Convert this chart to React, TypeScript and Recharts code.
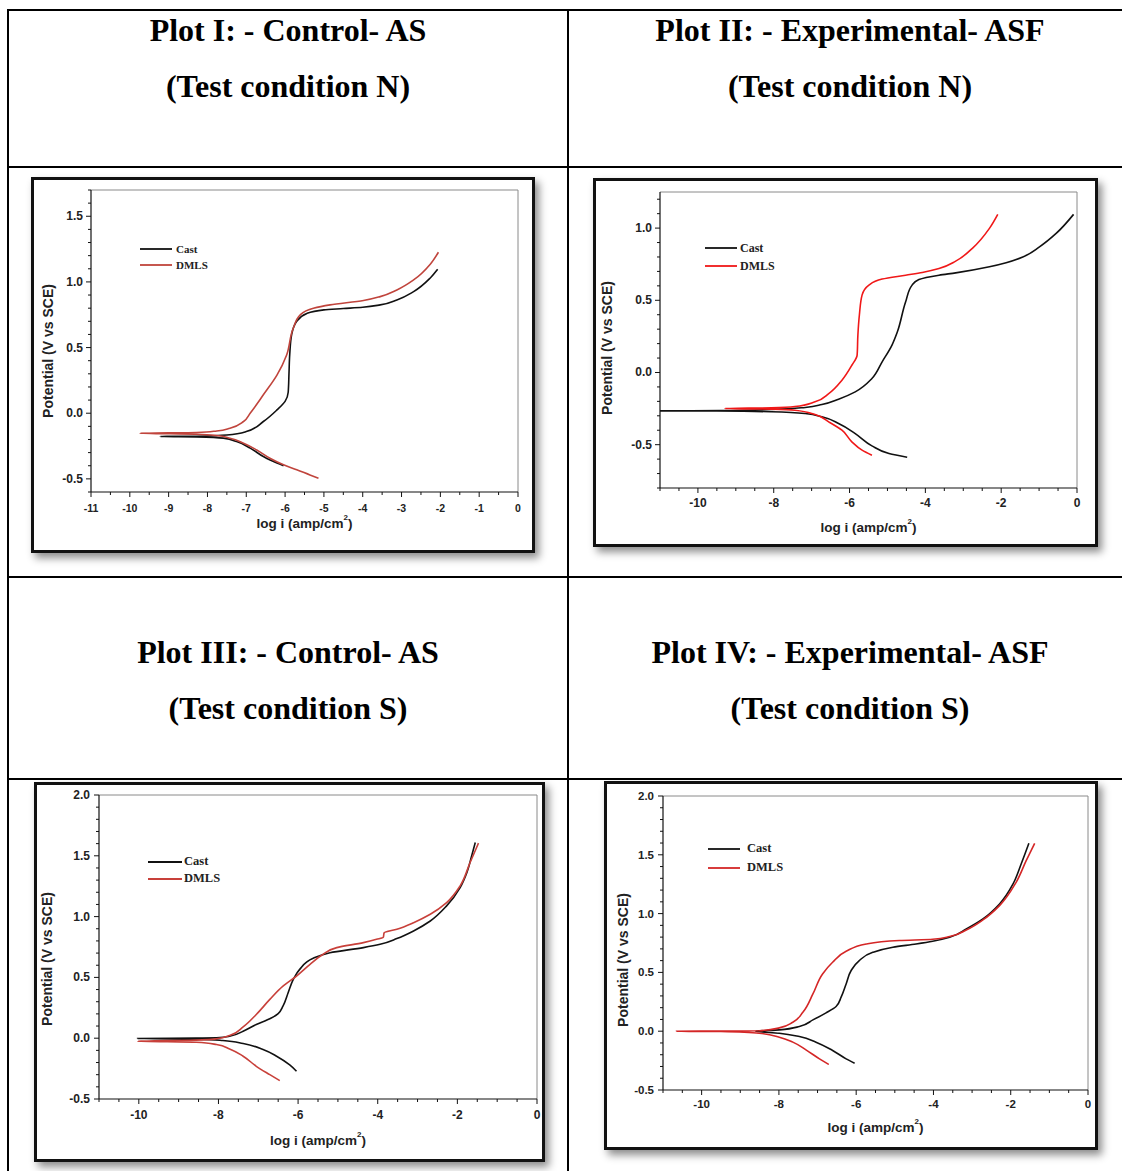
import { LineChart, Line, XAxis, YAxis, ReferenceLine, Legend } from "recharts";

type Pt = [number, number];

// [log i, potential] in scan order: cathodic end -> Ecorr -> anodic end
const castPlotI: Pt[] = [
  [-6.04, -0.4], [-6.21, -0.38], [-6.4, -0.355], [-6.56, -0.33], [-6.9, -0.266], [-7.25, -0.216],
  [-7.59, -0.19], [-8.28, -0.18], [-9.22, -0.178], [-8.3, -0.175], [-7.5, -0.166], [-7.0, -0.14],
  [-6.56, -0.063], [-6.21, 0.025], [-6.0, 0.09], [-5.92, 0.16], [-5.9, 0.3], [-5.88, 0.45],
  [-5.83, 0.6], [-5.7, 0.7], [-5.44, 0.76], [-5.0, 0.787], [-4.5, 0.797], [-4.0, 0.807],
  [-3.55, 0.825], [-3.12, 0.863], [-2.69, 0.926], [-2.26, 1.03], [-2.07, 1.096],
];
const dmlsPlotI: Pt[] = [
  [-5.14, -0.495], [-5.36, -0.47], [-5.7, -0.43], [-6.04, -0.393], [-6.39, -0.343], [-6.73, -0.28],
  [-7.07, -0.228], [-7.42, -0.19], [-7.76, -0.17], [-8.28, -0.16], [-9.74, -0.152], [-8.28, -0.147],
  [-7.76, -0.135], [-7.42, -0.114], [-7.07, -0.063], [-6.9, 0.0], [-6.56, 0.14], [-6.21, 0.29],
  [-5.96, 0.444], [-5.79, 0.647], [-5.61, 0.749], [-5.27, 0.8], [-4.84, 0.825], [-3.98, 0.858],
  [-3.55, 0.888], [-3.12, 0.939], [-2.69, 1.015], [-2.26, 1.135], [-2.05, 1.226],
];

const castPlotII: Pt[] = [
  [-4.48, -0.587], [-4.96, -0.561], [-5.41, -0.508], [-5.85, -0.423], [-6.29, -0.353], [-6.73, -0.307],
  [-7.17, -0.284], [-8.06, -0.272], [-9.5, -0.267], [-11, -0.266], [-9.38, -0.264], [-8.06, -0.256],
  [-7.17, -0.242], [-6.73, -0.222], [-6.29, -0.185], [-5.85, -0.134], [-5.41, -0.042], [-5.14, 0.074],
  [-4.88, 0.19], [-4.74, 0.28], [-4.52, 0.49], [-4.35, 0.605], [-4.17, 0.644], [-3.64, 0.674],
  [-3.2, 0.69], [-2.31, 0.732], [-1.87, 0.76], [-1.43, 0.8], [-0.99, 0.87], [-0.55, 0.963], [-0.09, 1.095],
];
const dmlsPlotII: Pt[] = [
  [-5.41, -0.573], [-5.67, -0.538], [-5.94, -0.48], [-6.2, -0.4], [-6.55, -0.342], [-6.91, -0.291],
  [-7.44, -0.261], [-8.06, -0.254], [-9.29, -0.249], [-8.06, -0.245], [-7.44, -0.236], [-6.91, -0.203],
  [-6.55, -0.146], [-6.2, -0.053], [-5.94, 0.05], [-5.8, 0.12], [-5.78, 0.26], [-5.74, 0.4],
  [-5.67, 0.536], [-5.49, 0.605], [-5.14, 0.647], [-4.52, 0.674], [-4.08, 0.693], [-3.64, 0.72],
  [-3.2, 0.771], [-2.76, 0.86], [-2.31, 0.998], [-2.09, 1.095],
];

const castPlotIII: Pt[] = [
  [-6.04, -0.272], [-6.21, -0.22], [-6.54, -0.148], [-6.88, -0.093], [-7.38, -0.044], [-7.89, -0.019],
  [-8.56, -0.008], [-10.03, -0.003], [-8.56, 0.001], [-8.05, 0.003], [-7.72, 0.016], [-7.38, 0.058],
  [-7.05, 0.113], [-6.71, 0.16], [-6.5, 0.203], [-6.38, 0.264], [-6.25, 0.374], [-6.12, 0.484],
  [-5.96, 0.566], [-5.62, 0.657], [-5.2, 0.703], [-4.36, 0.745], [-3.94, 0.772], [-3.52, 0.819],
  [-3.1, 0.882], [-2.68, 0.964], [-2.27, 1.088], [-1.93, 1.239], [-1.76, 1.363], [-1.64, 1.5], [-1.55, 1.61],
];
const dmlsPlotIII: Pt[] = [
  [-6.46, -0.349], [-6.71, -0.3], [-7.05, -0.231], [-7.38, -0.148], [-7.72, -0.088], [-8.05, -0.052],
  [-8.56, -0.033], [-10.03, -0.025], [-8.56, -0.016], [-8.05, -0.005], [-7.72, 0.022], [-7.38, 0.093],
  [-7.05, 0.195], [-6.71, 0.319], [-6.38, 0.429], [-6.04, 0.511], [-5.7, 0.607], [-5.37, 0.69],
  [-5.03, 0.745], [-4.36, 0.786], [-4.03, 0.813], [-3.86, 0.83], [-3.84, 0.866], [-3.52, 0.896],
  [-3.1, 0.95], [-2.68, 1.019], [-2.27, 1.115], [-1.93, 1.253], [-1.68, 1.445], [-1.47, 1.604],
];

const castPlotIV: Pt[] = [
  [-6.04, -0.272], [-6.26, -0.235], [-6.61, -0.164], [-7.04, -0.093], [-7.47, -0.045], [-7.99, -0.017],
  [-8.6, 0.0], [-7.99, 0.011], [-7.47, 0.04], [-7.12, 0.096], [-6.78, 0.156], [-6.52, 0.21],
  [-6.39, 0.289], [-6.26, 0.402], [-6.13, 0.516], [-5.92, 0.6], [-5.57, 0.671], [-5.05, 0.714],
  [-4.45, 0.742], [-4.02, 0.765], [-3.58, 0.799], [-3.15, 0.87], [-2.72, 0.955], [-2.29, 1.082],
  [-1.94, 1.252], [-1.73, 1.422], [-1.53, 1.598],
];
const dmlsPlotIV: Pt[] = [
  [-6.71, -0.283], [-6.95, -0.235], [-7.3, -0.159], [-7.64, -0.093], [-7.99, -0.051], [-8.51, -0.017],
  [-9.5, -0.003], [-10.65, 0.0], [-9.5, 0.001], [-8.51, 0.004], [-7.99, 0.028], [-7.64, 0.076],
  [-7.38, 0.161], [-7.12, 0.317], [-6.87, 0.487], [-6.61, 0.586], [-6.26, 0.68], [-5.74, 0.742],
  [-4.88, 0.771], [-4.02, 0.782], [-3.58, 0.805], [-3.15, 0.861], [-2.72, 0.946], [-2.29, 1.068],
  [-1.86, 1.266], [-1.6, 1.45], [-1.38, 1.598],
];

// tick labels
const xMajorAll = [-11, -10, -9, -8, -7, -6, -5, -4, -3, -2, -1, 0];
const xMajorEven = [-10, -8, -6, -4, -2, 0];
const yMajorI = [-0.5, 0, 0.5, 1.0, 1.5];
const yMajorII = [-0.5, 0, 0.5, 1.0];
const yMajorS = [-0.5, 0, 0.5, 1.0, 1.5, 2.0];

const titles = [
  "Plot I: - Control- AS",
  "Plot II: - Experimental- ASF",
  "Plot III: - Control- AS",
  "Plot IV: - Experimental- ASF",
];
const conditions = ["(Test condition N)", "(Test condition N)", "(Test condition S)", "(Test condition S)"];

const SANS = "'Liberation Sans', Arial, sans-serif";
const SERIF = "'Liberation Serif', 'Times New Roman', serif";

const toXY = (pts: Pt[]) => pts.map(([x, y]) => ({ x, y }));
const steps = (from: number, to: number, step: number) => {
  const out: number[] = [];
  for (let v = from; v <= to + 1e-9; v += step) out.push(Math.round(v * 100) / 100);
  return out;
};
const isMajor = (majors: number[], v: number) => majors.some((m) => Math.abs(m - v) < 1e-6);

interface PlotCfg {
  frame: { left: number; top: number; width: number; height: number };
  plot: { left: number; top: number; right: number; bottom: number };
  yDomain: [number, number];
  yMajor: number[];
  xMajor: number[];
  cast: Pt[];
  dmls: Pt[];
  red: string;
  xFont: number;
  yFont: number;
  xTickDy: number;
  yTickGap: number;
  yLabelX: number;
  yLabelDy: number;
  xLabelDy: number;
  legend: { left: number; top: number; row: number; line: number; gap: number; font: number };
}

const plots: PlotCfg[] = [
  {
    frame: { left: 31, top: 177, width: 504, height: 376 },
    plot: { left: 57, top: 10, right: 14, bottom: 58 },
    yDomain: [-0.6, 1.7], yMajor: yMajorI, xMajor: xMajorAll,
    cast: castPlotI, dmls: dmlsPlotI, red: "#c0443c",
    xFont: 10.5, yFont: 12, xTickDy: 16, yTickGap: 8,
    yLabelX: 14, yLabelDy: 10, xLabelDy: 31,
    legend: { left: 106, top: 61, row: 16, line: 32, gap: 4, font: 11 },
  },
  {
    frame: { left: 593, top: 178, width: 505, height: 369 },
    plot: { left: 64, top: 11, right: 18, bottom: 56 },
    yDomain: [-0.8, 1.25], yMajor: yMajorII, xMajor: xMajorEven,
    cast: castPlotII, dmls: dmlsPlotII, red: "#f01818",
    xFont: 12, yFont: 12, xTickDy: 15, yTickGap: 8,
    yLabelX: 11, yLabelDy: 8, xLabelDy: 39,
    legend: { left: 109, top: 58, row: 18, line: 32, gap: 3, font: 12 },
  },
  {
    frame: { left: 34, top: 782, width: 511, height: 380 },
    plot: { left: 62, top: 10, right: 5, bottom: 60 },
    yDomain: [-0.5, 2.0], yMajor: yMajorS, xMajor: xMajorEven,
    cast: castPlotIII, dmls: dmlsPlotIII, red: "#c8403a",
    xFont: 12, yFont: 12, xTickDy: 16, yTickGap: 9,
    yLabelX: 10, yLabelDy: 12, xLabelDy: 41,
    legend: { left: 111, top: 68, row: 17, line: 34, gap: 2, font: 12.5 },
  },
  {
    frame: { left: 604, top: 781, width: 494, height: 369 },
    plot: { left: 56, top: 12, right: 7, bottom: 57 },
    yDomain: [-0.5, 2.0], yMajor: yMajorS, xMajor: xMajorEven,
    cast: castPlotIV, dmls: dmlsPlotIV, red: "#d42626",
    xFont: 11.5, yFont: 11.5, xTickDy: 14, yTickGap: 9,
    yLabelX: 16, yLabelDy: 17, xLabelDy: 37,
    legend: { left: 101, top: 55, row: 19, line: 32, gap: 7, font: 12.5 },
  },
];

const BORDER = 3;

function PolarizationChart({ cfg }: { cfg: PlotCfg }) {
  const w = cfg.frame.width - BORDER * 2;
  const h = cfg.frame.height - BORDER * 2;
  const [yMin, yMax] = cfg.yDomain;
  const xTicks = steps(-11, 0, 0.5);
  const yTicks = steps(Math.ceil(yMin * 10) / 10, Math.floor(yMax * 10) / 10, 0.1);

  const xTick = (p: any) => {
    const { x, y, payload } = p;
    const major = isMajor(cfg.xMajor, payload.value);
    return (
      <g>
        <line x1={x} x2={x} y1={y} y2={y + (major ? 5 : 3)} stroke="#111" />
        {major && (
          <text x={x} y={y + cfg.xTickDy} textAnchor="middle" dominantBaseline="central"
            fontSize={cfg.xFont} fontWeight="bold" fontFamily={SANS} fill="#222">
            {String(payload.value)}
          </text>
        )}
      </g>
    );
  };
  const yTick = (p: any) => {
    const { x, y, payload } = p;
    const major = isMajor(cfg.yMajor, payload.value);
    return (
      <g>
        <line x1={x - (major ? 5 : 3)} x2={x} y1={y} y2={y} stroke="#111" />
        {major && (
          <text x={x - cfg.yTickGap} y={y} textAnchor="end" dominantBaseline="central"
            fontSize={cfg.yFont} fontWeight="bold" fontFamily={SANS} fill="#222">
            {payload.value.toFixed(1)}
          </text>
        )}
      </g>
    );
  };
  const yLabel = (p: any) => {
    const vb = p.viewBox;
    const cx = cfg.yLabelX;
    const cy = vb.y + vb.height / 2 + cfg.yLabelDy;
    return (
      <text x={cx} y={cy} transform={`rotate(-90 ${cx} ${cy})`} textAnchor="middle"
        dominantBaseline="central" fontSize={14} fontWeight="bold" fontFamily={SANS} fill="#222">
        Potential (V vs SCE)
      </text>
    );
  };
  const xLabel = (p: any) => {
    const vb = p.viewBox;
    const cx = vb.x + vb.width / 2;
    const cy = vb.y + cfg.xLabelDy;
    return (
      <text x={cx} y={cy} textAnchor="middle" dominantBaseline="central"
        fontSize={13.5} fontWeight="bold" fontFamily={SANS} fill="#222">
        <tspan>log i (amp/cm</tspan>
        <tspan dy={-6} fontSize={8}>2</tspan>
        <tspan dy={6}>)</tspan>
      </text>
    );
  };
  const legend = (p: any) => (
    <div>
      {(p.payload || []).map((item: any) => (
        <div key={item.value} style={{ display: "flex", alignItems: "center", height: cfg.legend.row }}>
          <svg width={cfg.legend.line} height={4} style={{ display: "block" }}>
            <line x1={0} x2={cfg.legend.line} y1={2} y2={2} stroke={item.color} strokeWidth={1.8} />
          </svg>
          <span style={{ marginLeft: cfg.legend.gap, fontFamily: SERIF, fontWeight: "bold",
            fontSize: cfg.legend.font, color: "#222", lineHeight: 1 }}>
            {item.value}
          </span>
        </div>
      ))}
    </div>
  );

  return (
    <div
      style={{
        position: "absolute",
        left: cfg.frame.left,
        top: cfg.frame.top,
        width: cfg.frame.width,
        height: cfg.frame.height,
        boxSizing: "border-box",
        border: `${BORDER}px solid #111`,
        boxShadow: "4px 5px 8px rgba(0,0,0,0.45)",
        background: "#fff",
      }}
    >
      <LineChart
        width={w}
        height={h}
        margin={{ top: cfg.plot.top, right: cfg.plot.right, left: 0, bottom: 0 }}
      >
        <XAxis
          type="number"
          dataKey="x"
          domain={[-11, 0]}
          ticks={xTicks}
          interval={0}
          allowDataOverflow
          height={cfg.plot.bottom}
          tickSize={0}
          tickMargin={0}
          tickLine={false}
          tick={xTick}
          axisLine={{ stroke: "#111", strokeWidth: 1.2 }}
          label={xLabel}
        />
        <YAxis
          type="number"
          dataKey="y"
          domain={cfg.yDomain}
          ticks={yTicks}
          interval={0}
          allowDataOverflow
          width={cfg.plot.left}
          tickSize={0}
          tickMargin={0}
          tickLine={false}
          tick={yTick}
          axisLine={{ stroke: "#111", strokeWidth: 1.2 }}
          label={yLabel}
        />
        <ReferenceLine y={yMax} stroke="#8a8a8a" strokeWidth={1} />
        <ReferenceLine x={0} stroke="#8a8a8a" strokeWidth={1} />
        <Legend
          layout="vertical"
          align="center"
          verticalAlign="middle"
          wrapperStyle={{ left: cfg.legend.left, top: cfg.legend.top, width: "auto", height: "auto" }}
          content={legend}
        />
        <Line data={toXY(cfg.cast)} dataKey="y" name="Cast" type="monotoneY" stroke="#111"
          strokeWidth={1.6} dot={false} isAnimationActive={false} />
        <Line data={toXY(cfg.dmls)} dataKey="y" name="DMLS" type="monotoneY" stroke={cfg.red}
          strokeWidth={1.6} dot={false} isAnimationActive={false} />
      </LineChart>
    </div>
  );
}

const line = (left: number, top: number, width: number, height: number) => (
  <div style={{ position: "absolute", left, top, width, height, background: "#000" }} />
);

const titleStyle = (left: number, top: number, width: number): React.CSSProperties => ({
  position: "absolute",
  left,
  top,
  width,
  textAlign: "center",
  fontFamily: SERIF,
  fontWeight: "bold",
  fontSize: 32,
  lineHeight: "32px",
  color: "#000",
  whiteSpace: "nowrap",
});

export default function App() {
  const cols = [
    { left: 9, width: 558 },
    { left: 569, width: 562 },
  ];
  const rowTops = [14, 14, 636, 636];
  return (
    <div style={{ position: "absolute", left: 0, top: 0, width: 1122, height: 1171, background: "#fff", overflow: "hidden" }}>
      {line(7, 9, 1130, 2)}
      {line(7, 9, 2, 1170)}
      {line(567, 9, 2, 1170)}
      {line(7, 166, 1130, 2)}
      {line(7, 576, 1130, 2)}
      {line(7, 778, 1130, 2)}
      {titles.map((t, i) => (
        <div key={t} style={titleStyle(cols[i % 2].left, rowTops[i], cols[i % 2].width)}>{t}</div>
      ))}
      {conditions.map((c, i) => (
        <div key={i} style={titleStyle(cols[i % 2].left, rowTops[i] + 56, cols[i % 2].width)}>{c}</div>
      ))}
      {plots.map((cfg, i) => (
        <PolarizationChart key={i} cfg={cfg} />
      ))}
    </div>
  );
}
